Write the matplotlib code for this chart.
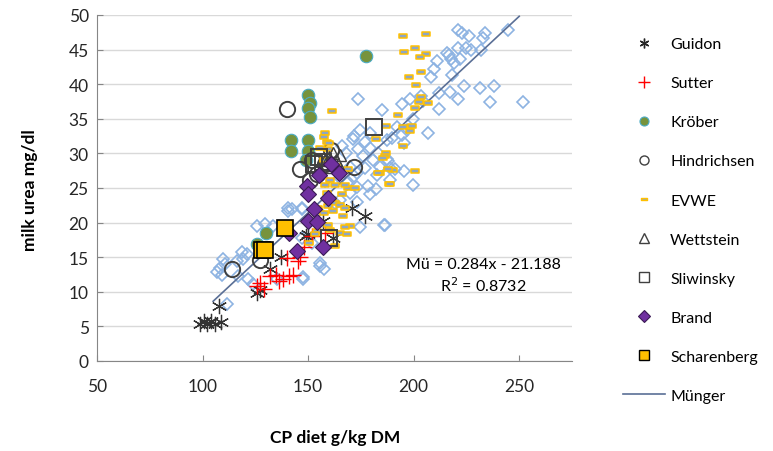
import matplotlib
matplotlib.use("Agg")
import matplotlib.pyplot as plt
from matplotlib.lines import Line2D
from matplotlib.path import Path
import numpy as np

plt.rcParams['font.family'] = ['Lato', 'DejaVu Sans']

# ---------------- data ----------------
guidon_x = [99, 100.5, 102, 104, 106, 108.5, 108, 126, 127, 132, 137, 149, 150, 157, 162, 171, 177]
guidon_y = [5.3, 5.8, 5.3, 5.8, 5.3, 5.7, 8.0, 9.8, 10.3, 13.3, 15.0, 18.0, 18.3, 20.2, 17.8, 22.1, 20.9]

sutter_x = [126, 127, 129, 132, 135, 136, 138, 141, 143, 140, 145, 146, 148, 152, 158]
sutter_y = [10.9, 11.3, 10.4, 12.3, 12.5, 11.6, 11.8, 12.3, 12.5, 14.9, 14.5, 15.0, 16.5, 18.0, 18.5]

kroeber_x = [177.5, 150, 151, 150, 151, 142, 150, 142, 150, 149, 130, 126]
kroeber_y = [44.1, 38.5, 37.3, 36.6, 35.3, 32.0, 32.0, 30.3, 30.3, 29.0, 18.5, 16.9]

hindrichsen_x = [140, 114, 127, 161, 146, 171.5, 151, 154, 152, 158]
hindrichsen_y = [36.4, 13.3, 14.6, 30.5, 27.7, 28.1, 26.2, 27.0, 29.0, 28.5]

evwe_x = [195, 206, 200.7, 195.6, 205.8, 202.8, 203.4, 197.9, 201.3, 203.4, 202.5, 200.4, 207,
          192.8, 187, 194.9, 199.1, 198.3, 194.9, 187, 186.5, 190.4, 200.4, 184.1, 188.5, 161.2,
          158.1, 157.3, 158.9, 160.1, 155.7, 159.6, 157.3, 182.2, 185.7, 169.1, 188, 161.2, 163,
          160.4, 158.1, 162.8, 169.1, 158.9, 166, 161.2, 162.8, 165.2, 167.5, 159.6, 154.9, 157.3,
          169.9, 165.2, 160.4, 154.1, 168.3, 150.2, 172.3, 167.5, 162, 166.7, 167.5, 159.6, 162.8,
          153.3, 183.3, 188.9]
evwe_y = [47.0, 47.2, 45.3, 44.6, 44.3, 43.9, 41.7, 41.0, 39.9, 38.1, 37.4, 36.6, 37.3,
          35.6, 34.0, 33.8, 34.0, 33.3, 31.1, 30.0, 29.6, 27.6, 27.4, 27.1, 25.6, 36.1,
          32.9, 32.4, 31.7, 31.5, 30.8, 30.6, 29.1, 32.1, 29.3, 27.7, 27.7, 28.5, 28.2,
          26.2, 25.4, 25.4, 25.0, 24.3, 24.1, 23.3, 22.9, 22.5, 22.1, 22.4, 22.1, 21.4,
          19.5, 18.5, 19.0, 18.8, 18.3, 17.1, 25.0, 25.4, 21.7, 20.9, 19.3, 19.7, 16.6,
          18.3, 27.1, 25.6]

wettstein_x = [160, 162, 163, 164, 165, 161, 158]
wettstein_y = [29.5, 30.0, 29.0, 28.5, 29.8, 28.0, 29.0]

sliwinsky_x = [181, 155, 153, 157, 160]
sliwinsky_y = [33.8, 29.5, 28.5, 28.8, 17.8]

brand_x = [161, 155, 164.5, 149.5, 150, 159.5, 153, 150, 154, 141, 144.5, 157]
brand_y = [28.5, 26.9, 27.2, 25.3, 24.1, 23.6, 21.9, 20.2, 20.1, 18.5, 15.9, 16.5]

scharenberg_x = [139, 128, 129.5]
scharenberg_y = [19.2, 16.0, 16.0]

muenger_x = [221, 223, 226, 234, 233, 244.5, 221, 225, 227, 232, 216.5, 217.5, 222, 211, 219,
             215.7, 209.5, 208, 218, 224, 231.5, 238, 212, 217, 221, 236, 251.7, 212, 204.6,
             203.4, 194.4, 198.3, 184.9, 173.8, 199.9, 192, 196.8, 194.4, 189.6, 195.6, 207,
             187.3, 184.1, 188.9, 195.6, 188.9, 199.6, 186, 174.6, 179.4, 171.2, 177, 187.3,
             173.8, 179.4, 183.3, 176.2, 180.9, 188, 191.2, 177, 173, 182.5, 169.9, 171.5, 171.5,
             168.3, 173, 178.6, 182, 169.9, 179.4, 165.2, 173, 162, 154.9, 147, 140.6, 133.6,
             125.7, 147, 147, 174.6, 186.5, 155.7, 157.3, 147.8, 152, 140.7, 129.5, 118.6, 116.2,
             119.3, 110.7, 108.3, 109.1, 117, 121.7, 135.2, 124.1, 147.8, 111.5, 109.9, 106.7,
             121, 155.7, 162.8, 142.3, 158, 165, 168, 166]
muenger_y = [47.8, 47.4, 46.9, 47.4, 46.7, 47.8, 45.2, 45.3, 44.9, 45.0, 44.2, 43.7, 43.7, 43.3, 43.0,
             44.5, 42.2, 41.0, 41.3, 39.8, 39.5, 39.7, 38.7, 38.9, 37.9, 37.4, 37.4, 36.4, 37.6,
             38.3, 37.2, 37.8, 36.3, 37.9, 35.0, 33.8, 33.4, 32.7, 32.2, 31.5, 33.0,
             29.2, 28.1, 27.9, 27.4, 26.2, 25.4, 19.7, 33.4, 32.9, 32.1, 31.7, 32.0,
             30.6, 30.8, 30.1, 29.6, 29.1, 28.9, 27.7, 27.9, 27.2, 26.9, 28.1, 32.5, 26.7,
             25.7, 25.2, 25.3, 24.8, 24.3, 24.1, 23.3, 23.0, 22.4, 21.7, 22.1, 22.1, 19.5,
             19.5, 17.8, 21.9, 19.3, 19.7, 13.7, 13.3, 12.1, 17.1, 21.7, 19.8, 15.7, 14.5,
             14.7, 14.0, 13.5, 12.5, 12.3, 11.8, 11.8, 11.1, 11.8, 8.2, 14.7, 12.8,
             15.5, 14.2, 22.9, 21.9, 26.0, 26.5, 30.0, 31.0]

slope, intercept = 0.284, -21.188
line_x = [105, 250]

x_ticks = [50, 100, 150, 200, 250]
y_ticks = [0, 5, 10, 15, 20, 25, 30, 35, 40, 45, 50]

# ---------------- figure ----------------
W, H = 773, 452
fig = plt.figure(figsize=(W / 100, H / 100), dpi=100)
ax = fig.add_axes([97 / W, 1 - 362 / H, (572 - 97) / W, (362 - 16) / H])

# EVWE dash marker
dash = Path([(-1, -0.38), (1, -0.38), (1, 0.38), (-1, 0.38), (-1, -0.38)],
            [Path.MOVETO, Path.LINETO, Path.LINETO, Path.LINETO, Path.CLOSEPOLY])

ax.plot(muenger_x, muenger_y, ls='none', marker='D', ms=6.5, mfc='none',
        mec='#8DB3E2', mew=1.2, zorder=3)
lx = np.array(line_x)
ax.plot(lx, slope * lx + intercept, color='#5A6F96', lw=1.2, zorder=4)
ax.plot(guidon_x, guidon_y, ls='none', marker=(6, 2, 0), ms=11, mec='#333333', mew=0.9, zorder=5)
ax.plot(sutter_x, sutter_y, ls='none', marker='+', ms=12, mec='#FF0000', mew=1.0, zorder=5)
ax.plot(kroeber_x, kroeber_y, ls='none', marker='o', ms=9, mfc='#77933C', mec='#4BACC6', mew=0.8, zorder=5)
ax.plot(hindrichsen_x, hindrichsen_y, ls='none', marker='o', ms=11, mfc='none', mec='#404040', mew=1.4, zorder=5)
ax.plot(evwe_x, evwe_y, ls='none', marker=dash, ms=6, mfc='#8DA6C6', mec='#FFC000', mew=1.1, zorder=5)
ax.plot(wettstein_x, wettstein_y, ls='none', marker='^', ms=9, mfc='none', mec='#404040', mew=1.0, zorder=5)
ax.plot(sliwinsky_x, sliwinsky_y, ls='none', marker='s', ms=12, mfc='none', mec='#404040', mew=1.4, zorder=5)
ax.plot(brand_x, brand_y, ls='none', marker='D', ms=8, mfc='#7030A0', mec='#3A1A55', mew=0.8, zorder=6)
ax.plot(scharenberg_x, scharenberg_y, ls='none', marker='s', ms=11, mfc='#FFC000', mec='#000000', mew=1.2, zorder=6)

ax.set_xlim(50, 275)
ax.set_ylim(0, 50)
ax.set_xticks(x_ticks)
ax.set_yticks(y_ticks)
ax.grid(axis='y', color='#D9D9D9', lw=1.0)
ax.set_axisbelow(True)
for s in ['top', 'right']:
    ax.spines[s].set_visible(False)
for s in ['left', 'bottom']:
    ax.spines[s].set_color('#868686')
ax.tick_params(axis='both', direction='in', length=4, color='#868686', labelsize=12.5,
               labelcolor='#262626', pad=6)
ax.tick_params(axis='x', pad=12)

ax.text(233, 14.0, 'Mü = 0.284x - 21.188', ha='center', va='center', fontsize=11.5, color='#000000')
ax.text(233, 11.1, 'R$^2$ = 0.8732', ha='center', va='center', fontsize=11.5, color='#000000')

fig.text(30 / W, 1 - 190 / H, 'milk urea mg/dl', rotation=90, ha='center', va='center',
         fontsize=12.5, fontweight='bold')
fig.text(335 / W, 1 - 438 / H, 'CP diet g/kg DM', ha='center', va='center',
         fontsize=12.5, fontweight='bold')

handles = [
    Line2D([], [], ls='none', marker=(6, 2, 0), ms=7, mec='#262626', mew=1.0),
    Line2D([], [], ls='none', marker='+', ms=8, mec='#FF0000', mew=1.0),
    Line2D([], [], ls='none', marker='o', ms=6.5, mfc='#77933C', mec='#4BACC6', mew=0.8),
    Line2D([], [], ls='none', marker='o', ms=6.5, mfc='none', mec='#404040', mew=1.0),
    Line2D([], [], ls='none', marker=dash, ms=5, mfc='#8DA6C6', mec='#FFC000', mew=1.0),
    Line2D([], [], ls='none', marker='^', ms=6.5, mfc='none', mec='#404040', mew=1.0),
    Line2D([], [], ls='none', marker='s', ms=6.5, mfc='none', mec='#404040', mew=1.0),
    Line2D([], [], ls='none', marker='D', ms=6, mfc='#7030A0', mec='#3A1A55', mew=0.8),
    Line2D([], [], ls='none', marker='s', ms=7, mfc='#FFC000', mec='#000000', mew=1.0),
    Line2D([], [], color='#5A6F96', lw=1.2),
]
labels = ['Guidon', 'Sutter', 'Kröber', 'Hindrichsen', 'EVWE', 'Wettstein', 'Sliwinsky',
          'Brand', 'Scharenberg', 'Münger']
fig.legend(handles, labels, loc='upper left', bbox_to_anchor=(623 / W, 1 - 38 / H),
           frameon=False, fontsize=11.5, labelspacing=1.56, handlelength=2.6,
           handletextpad=0.35, borderaxespad=0, borderpad=0)

fig.savefig('out.png', dpi=100)
